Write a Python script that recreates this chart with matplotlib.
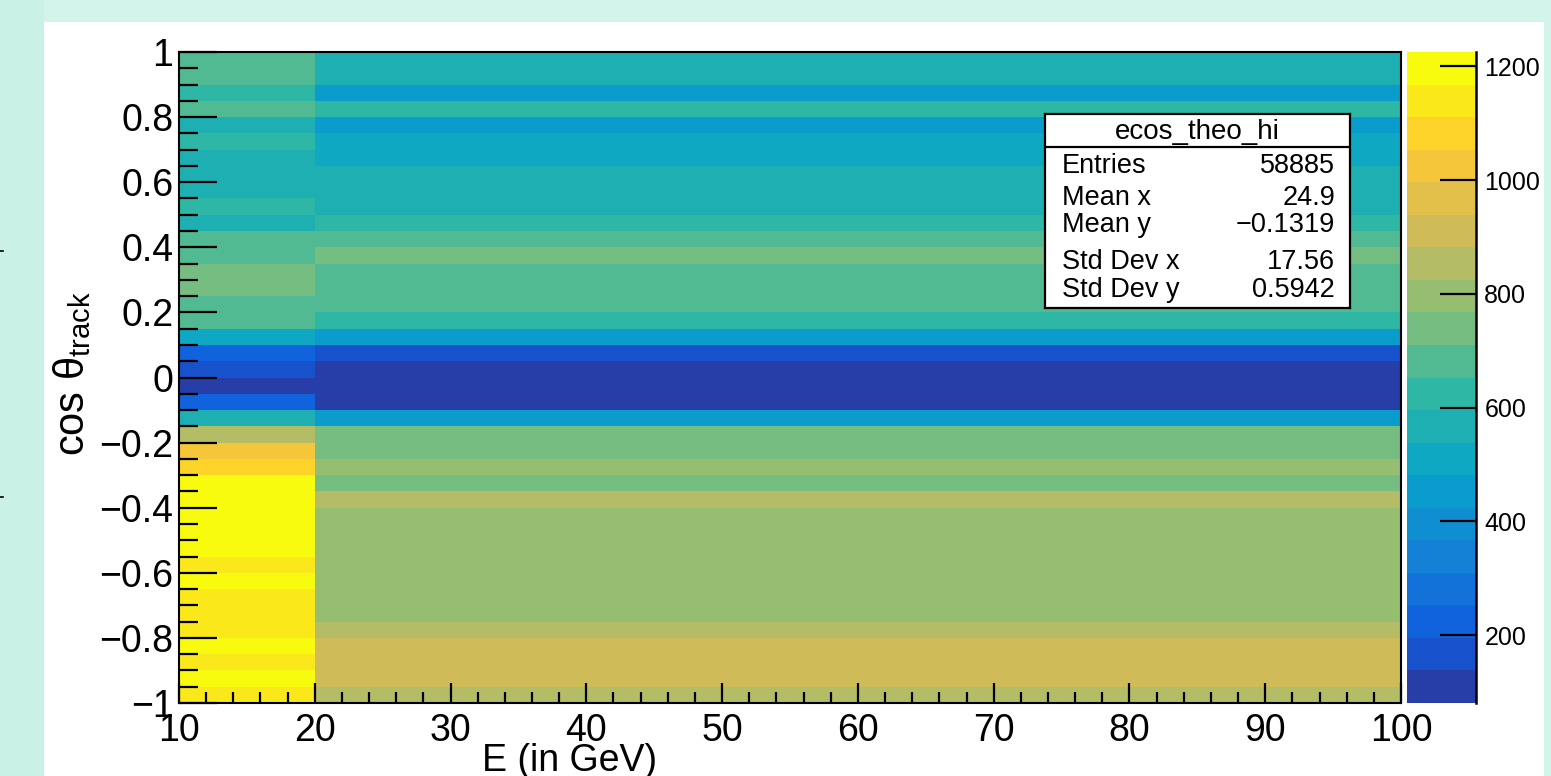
import numpy as np
import matplotlib
matplotlib.use('Agg')
import matplotlib.pyplot as plt
from matplotlib.colors import LinearSegmentedColormap, ListedColormap, Normalize
from matplotlib.patches import Rectangle
from matplotlib.ticker import MultipleLocator

plt.rcParams['font.family'] = ['Liberation Sans', 'DejaVu Sans']
plt.rcParams['mathtext.fontset'] = 'custom'
plt.rcParams['mathtext.rm'] = 'Liberation Sans'

NARROW = ['Liberation Sans Narrow', 'Liberation Sans', 'DejaVu Sans']

# histogram ecos_theo_hi: two E bins, 40 cos(theta) bins
e_edges = [10, 20, 100]
n_cos_bins = 40

# bin contents, listed from cos = +1 (top) down to cos = -1 (bottom)
counts_10_20 = [682, 676, 628, 690, 571, 619, 560, 566, 574, 630,
                563, 685, 679, 741, 734, 688, 672, 512, 226, 168,
                96, 221, 569, 851, 1027, 1079, 1201, 1193, 1207, 1188,
                1199, 1142, 1196, 1135, 1146, 1131, 1204, 1140, 1190, 1144]
counts_20_100 = [565, 571, 455, 622, 449, 508, 514, 563, 568, 572,
                 626, 680, 744, 684, 677, 687, 620, 451, 165, 104,
                 89, 108, 457, 738, 733, 799, 742, 856, 793, 801,
                 790, 797, 804, 792, 798, 849, 912, 906, 915, 858]

z_min, z_max = 81, 1225
n_contours = 20

stats_labels = ['Entries', 'Mean x', 'Mean y', 'Std Dev x', 'Std Dev y']
stats_values = ['58885', '24.9', '\u22120.1319', '17.56', '0.5942']

# ROOT kBird palette, cut into 20 contour colours
stops = [0.0, 0.125, 0.25, 0.375, 0.5, 0.625, 0.75, 0.875, 1.0]
red = [0.2082, 0.0592, 0.0780, 0.0232, 0.1802, 0.5301, 0.8186, 0.9956, 0.9764]
green = [0.1664, 0.3599, 0.5041, 0.6419, 0.7178, 0.7492, 0.7328, 0.7862, 0.9832]
blue = [0.5293, 0.8684, 0.8385, 0.7914, 0.6425, 0.4662, 0.3499, 0.1968, 0.0539]
bird = LinearSegmentedColormap.from_list('kBird', list(zip(stops, zip(red, green, blue))))
cmap = ListedColormap([bird((i + 0.99) / n_contours) for i in range(n_contours)])

W, H = 1551, 776
fig = plt.figure(figsize=(W / 100, H / 100), dpi=100, facecolor='#d3f4eb')

def fx(px):
    return px / W

def fy(py):
    return 1 - py / H

# screenshot frame: mint border, white canvas
fig.patches.append(Rectangle((0, 0), fx(44), 1, transform=fig.transFigure,
                             facecolor='#c9f1e6', edgecolor='none', zorder=-3))
fig.patches.append(Rectangle((fx(44), 0), fx(1544) - fx(44), fy(22), transform=fig.transFigure,
                             facecolor='white', edgecolor='none', zorder=-2))
for py in (251, 497):
    fig.add_artist(plt.Line2D([0, fx(3)], [fy(py), fy(py)], color='black', lw=1.2))

ax = fig.add_axes([fx(179), fy(703), fx(1401) - fx(179), fy(52) - fy(703)])
cos_edges = np.linspace(1, -1, n_cos_bins + 1)
Z = np.column_stack([counts_10_20, counts_20_100])
mesh = ax.pcolormesh(e_edges, cos_edges, Z, cmap=cmap,
                     norm=Normalize(vmin=z_min, vmax=z_max))
ax.set_xlim(10, 100)
ax.set_ylim(-1, 1)

for s in ax.spines.values():
    s.set_linewidth(1.5)
    s.set_color('black')

ax.set_xticks(np.arange(10, 101, 10))
ax.xaxis.set_minor_locator(MultipleLocator(2))
yt = np.round(np.arange(-1, 1.001, 0.2), 1)
ax.set_yticks(yt)
ax.set_yticklabels([f'{v + 0.0:g}'.replace('-', '\u2212') for v in yt])
ax.yaxis.set_minor_locator(MultipleLocator(0.05))

ax.tick_params(axis='both', which='both', direction='in', top=False, right=False,
               width=1.6, color='black')
ax.tick_params(axis='y', which='major', length=27, pad=4, labelsize=27)
ax.tick_params(axis='y', which='minor', length=13.5)
ax.tick_params(axis='x', which='major', length=14.5, pad=7, labelsize=27)
ax.tick_params(axis='x', which='minor', length=8)
for lab in ax.get_xticklabels():
    lab.set_family(NARROW)

# axis titles
fig.text(fx(570), fy(771), 'E (in GeV)', ha='center', va='baseline',
         fontsize=27, family=NARROW)
fig.text(fx(72), fy(373), r'cos $\mathregular{\theta_{track}}$', rotation=90,
         ha='center', va='center', fontsize=30, family=NARROW)

# palette axis
cax = fig.add_axes([fx(1407), fy(703), fx(1476) - fx(1407), fy(52) - fy(703)])
cbar = fig.colorbar(mesh, cax=cax)
cbar.outline.set_visible(False)
cbar.set_ticks([200, 400, 600, 800, 1000, 1200])
cax.tick_params(which='both', direction='in', length=26, width=1.6, pad=6,
                labelsize=18, color='black')
cax.minorticks_off()
cax.axvline(1, color='black', lw=1.8, clip_on=False)

# stats box
sx = fig.add_axes([fx(1045), fy(308), fx(1350) - fx(1045), fy(114) - fy(308)])
sx.set_xticks([])
sx.set_yticks([])
sx.set_facecolor('white')
for s in sx.spines.values():
    s.set_linewidth(1.6)
    s.set_color('black')
sep = (308 - 147) / (308 - 114)
sx.axhline(sep, color='black', lw=1.6)
sx.text(0.5, 0.907, 'ecos_theo_hi', ha='center', va='center', fontsize=20,
        transform=sx.transAxes)
baselines = [173, 205, 232, 269, 297]
for lab, val, b in zip(stats_labels, stats_values, baselines):
    yy = (308 - b) / (308 - 114)
    sx.text(0.056, yy, lab, ha='left', va='baseline', fontsize=19.5, transform=sx.transAxes)
    sx.text(0.951, yy, val, ha='right', va='baseline', fontsize=19.5, transform=sx.transAxes)

fig.savefig('out.png', dpi=100, facecolor=fig.get_facecolor())
